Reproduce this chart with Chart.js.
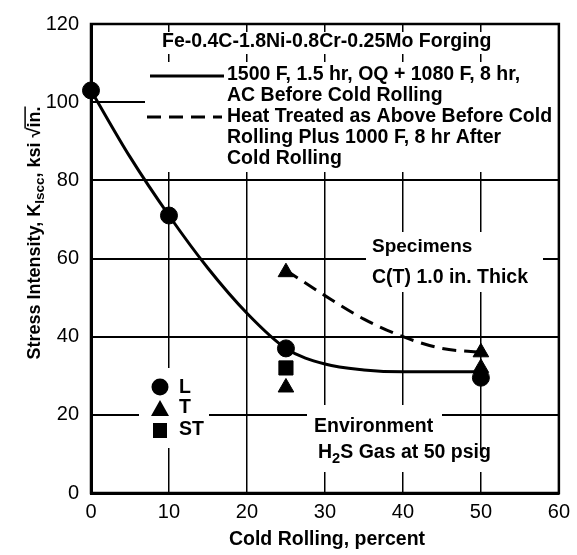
<!DOCTYPE html>
<html>
<head>
<meta charset="UTF-8">
<title>KIscc vs Cold Rolling</title>
<script src="https://cdn.jsdelivr.net/npm/chart.js"></script>
<style>
  body { margin: 0; background: #fff; }
  #wrap { width: 577px; height: 555px; }
</style>
</head>
<body>
<div id="wrap"><canvas id="myChart"></canvas></div>
<script>
// fitted curves
const solidX = [0, 5, 10, 15, 20, 25, 30, 35, 40, 45, 50];
const solidY = [103, 86, 71, 57.5, 46, 37, 33, 31.5, 31, 31, 31];
const dashX = [25, 30, 35, 40, 45, 50];
const dashY = [57, 50.5, 44.5, 40, 37, 36];
// test points by orientation
const lX = [0, 10, 25, 50];
const lY = [103, 71, 37, 29.5];
const tX = [25, 25, 50, 50];
const tY = [56.5, 27, 36, 32];
const stX = [25];
const stY = [32];

const pts = (xs, ys) => xs.map((x, i) => ({ x: x, y: ys[i] }));

const FONT = '"Liberation Sans", Arial, sans-serif';

// draw a line of text made of runs, some of them subscript
function runs(ctx, parts, x, y, size, align) {
    let w = 0;
    parts.forEach(p => {
        ctx.font = 'bold ' + (p.sub ? size * 0.75 : size) + 'px ' + FONT;
        p.w = ctx.measureText(p.t).width;
        w += p.w;
    });
    let cx = align === 'center' ? x - w / 2 : x;
    ctx.textAlign = 'left';
    ctx.textBaseline = 'middle';
    parts.forEach(p => {
        ctx.font = 'bold ' + (p.sub ? size * 0.75 : size) + 'px ' + FONT;
        ctx.fillText(p.t, cx, p.sub ? y + size * 0.3 : y);
        if (p.over) {
            ctx.lineWidth = 1.5;
            ctx.beginPath();
            ctx.moveTo(cx - 1, y - size * 0.55);
            ctx.lineTo(cx + p.w, y - size * 0.55);
            ctx.stroke();
        }
        cx += p.w;
    });
}

const notes = {
    id: 'notes',
    beforeDatasetsDraw(chart) {
        const ctx = chart.ctx;
        const a = chart.chartArea;
        ctx.save();
        // white backing behind the labels inside the plot
        ctx.fillStyle = '#fff';
        ctx.fillRect(145, 32, 414, 22);
        ctx.fillRect(145, 62, 414, 110);
        ctx.fillRect(366, 232, 177, 60);
        ctx.fillRect(139, 368, 70, 80);
        ctx.fillRect(307, 405, 135, 47);
        ctx.fillRect(307, 450, 188, 22);

        ctx.strokeStyle = '#000';
        ctx.lineWidth = 2.5;
        ctx.strokeRect(a.left, a.top, a.right - a.left, a.bottom - a.top);

        ctx.fillStyle = '#000';
        const fs = 19.5;
        runs(ctx, [{ t: 'Fe-0.4C-1.8Ni-0.8Cr-0.25Mo Forging' }], 162, 42, fs);
        runs(ctx, [{ t: '1500 F, 1.5 hr, OQ + 1080 F, 8 hr,' }], 227, 75, fs);
        runs(ctx, [{ t: 'AC Before Cold Rolling' }], 227, 96, fs);
        runs(ctx, [{ t: 'Heat Treated as Above Before Cold' }], 227, 117, fs);
        runs(ctx, [{ t: 'Rolling Plus 1000 F, 8 hr After' }], 227, 138, fs);
        runs(ctx, [{ t: 'Cold Rolling' }], 227, 159, fs);

        // legend line samples
        ctx.lineWidth = 3;
        ctx.beginPath();
        ctx.moveTo(150, 76);
        ctx.lineTo(224, 76);
        ctx.stroke();
        ctx.setLineDash([14, 8]);
        ctx.beginPath();
        ctx.moveTo(147, 117);
        ctx.lineTo(222, 117);
        ctx.stroke();
        ctx.setLineDash([]);

        runs(ctx, [{ t: 'Specimens' }], 372, 247, 19);
        runs(ctx, [{ t: 'C(T) 1.0 in. Thick' }], 372, 278, 19.5);
        runs(ctx, [{ t: 'Environment' }], 314, 427, 19.5);
        runs(ctx, [{ t: 'H' }, { t: '2', sub: true }, { t: 'S Gas at 50 psig' }], 318, 453, 19.5);

        // symbol key
        ctx.beginPath();
        ctx.arc(160, 387, 8.5, 0, Math.PI * 2);
        ctx.fill();
        ctx.beginPath();
        ctx.moveTo(160, 400);
        ctx.lineTo(169, 416);
        ctx.lineTo(151, 416);
        ctx.closePath();
        ctx.fill();
        ctx.fillRect(153, 423, 14, 15);
        runs(ctx, [{ t: 'L' }], 179, 388, 19.5);
        runs(ctx, [{ t: 'T' }], 179, 408, 19.5);
        runs(ctx, [{ t: 'ST' }], 179, 430, 19.5);

        // axis titles
        runs(ctx, [{ t: 'Cold Rolling, percent' }], 327, 540, 19.5, 'center');
        ctx.translate(35, 233);
        ctx.rotate(-Math.PI / 2);
        runs(ctx, [{ t: 'Stress Intensity, K' }, { t: 'Iscc', sub: true }, { t: ', ksi \u221A' }, { t: 'in.', over: true }], 0, 0, 18, 'center');
        ctx.restore();
    }
};

const ctx = document.getElementById('myChart').getContext('2d');
const chart = new Chart(ctx, {
    type: 'scatter',
    data: {
        datasets: [
            {
                data: pts(solidX, solidY),
                showLine: true,
                cubicInterpolationMode: 'monotone',
                borderColor: '#000',
                borderWidth: 3,
                pointRadius: 0,
                clip: false
            },
            {
                data: pts(dashX, dashY),
                showLine: true,
                cubicInterpolationMode: 'monotone',
                borderColor: '#000',
                borderWidth: 3,
                borderDash: [14, 8],
                pointRadius: 0,
                clip: false
            },
            {
                label: 'L',
                data: pts(lX, lY),
                pointStyle: 'circle',
                pointRadius: 8.5,
                backgroundColor: '#000',
                borderColor: '#000',
                clip: false
            },
            {
                label: 'T',
                data: pts(tX, tY),
                pointStyle: 'triangle',
                pointRadius: 9,
                backgroundColor: '#000',
                borderColor: '#000',
                clip: false
            },
            {
                label: 'ST',
                data: pts(stX, stY),
                pointStyle: 'rect',
                pointRadius: 10,
                backgroundColor: '#000',
                borderColor: '#000',
                clip: false
            }
        ]
    },
    options: {
        responsive: true,
        maintainAspectRatio: false,
        animation: false,
        layout: { padding: { left: 0, right: 15, top: 18, bottom: 0 } },
        plugins: {
            legend: { display: false },
            tooltip: { enabled: false }
        },
        scales: {
            x: {
                type: 'linear',
                min: 0,
                max: 60,
                ticks: {
                    stepSize: 10,
                    color: '#000',
                    padding: 7,
                    maxRotation: 0,
                    font: { family: FONT, size: 20 }
                },
                grid: { color: '#000', lineWidth: 1.5, drawTicks: false },
                border: { color: '#000', width: 3 },
                afterFit(scale) { scale.height = 62; }
            },
            y: {
                min: 0,
                max: 120,
                ticks: {
                    stepSize: 20,
                    color: '#000',
                    padding: 12,
                    font: { family: FONT, size: 20 }
                },
                grid: { color: '#000', lineWidth: 2, drawTicks: false },
                border: { color: '#000', width: 3 },
                afterFit(scale) { scale.width = 91; }
            }
        }
    },
    plugins: [notes]
});
</script>
</body>
</html>
